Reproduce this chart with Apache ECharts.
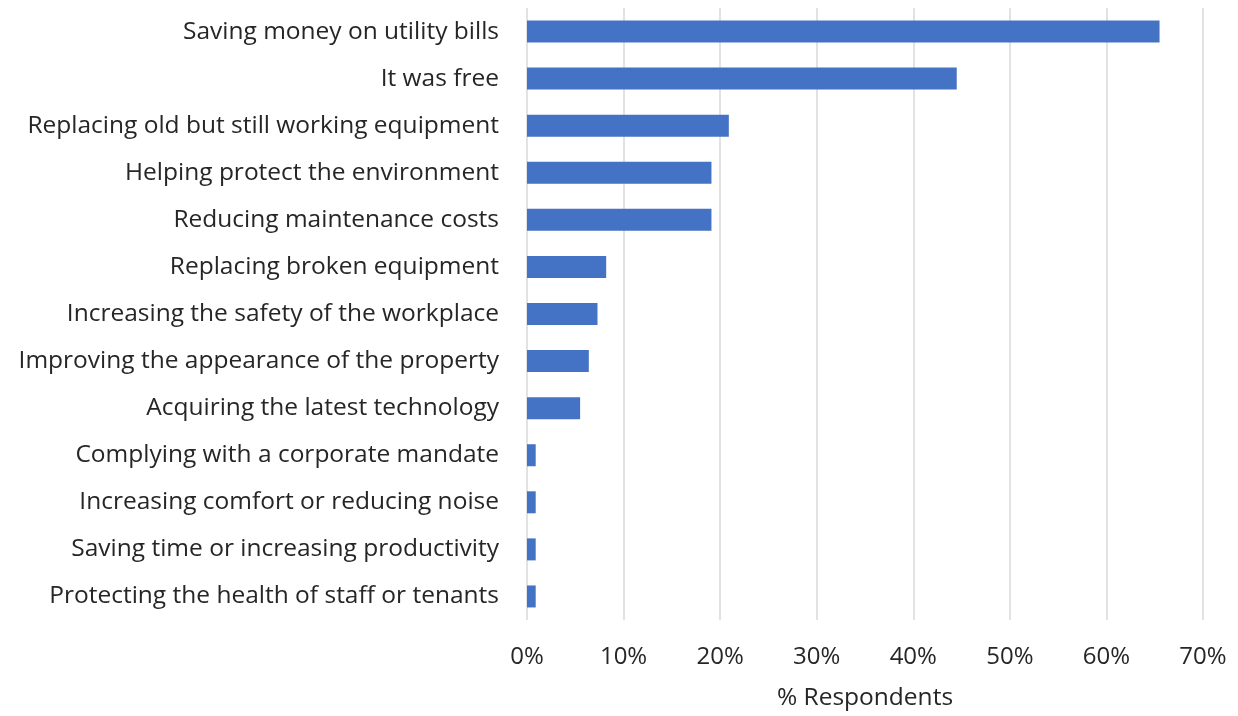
<!DOCTYPE html>
<html>
<head>
<meta charset="utf-8">
<script src="https://cdn.jsdelivr.net/npm/echarts@6/dist/echarts.min.js"></script>
<style>
  html, body { margin: 0; padding: 0; background: #fff; }
  #main { width: 1238px; height: 716px; }
</style>
</head>
<body>
<div id="main"></div>
<script>
// reasons, top to bottom
var reasons = [
  'Saving money on utility bills',
  'It was free',
  'Replacing old but still working equipment',
  'Helping protect the environment',
  'Reducing maintenance costs',
  'Replacing broken equipment',
  'Increasing the safety of the workplace',
  'Improving the appearance of the property',
  'Acquiring the latest technology',
  'Complying with a corporate mandate',
  'Increasing comfort or reducing noise',
  'Saving time or increasing productivity',
  'Protecting the health of staff or tenants'
];
// % respondents
var shares = [65.5, 44.5, 20.9, 19.1, 19.1, 8.2, 7.3, 6.4, 5.5, 0.9, 0.9, 0.9, 0.9];
var tickMax = 70;
var tickStep = 10;

var chart = echarts.init(document.getElementById('main'), null, { renderer: 'canvas' });

var font = '"Open Sans", Lato, sans-serif';
var option = {
  animation: false,
  grid: {
    left: 527,
    right: 35,
    top: 8,
    bottom: 96
  },
  xAxis: {
    type: 'value',
    min: 0,
    max: tickMax,
    interval: tickStep,
    name: '% Respondents',
    nameLocation: 'middle',
    nameGap: 66,
    nameTextStyle: { color: '#262626', fontSize: 24.5, fontFamily: font },
    axisLine: { show: false },
    axisTick: { show: false },
    axisLabel: {
      color: '#262626',
      fontSize: 24,
      fontFamily: font,
      margin: 25,
      formatter: '{value}%'
    },
    splitLine: { lineStyle: { color: '#d9d9d9', width: 1.5 } }
  },
  yAxis: {
    type: 'category',
    inverse: true,
    data: reasons,
    axisLine: { show: false },
    axisTick: { show: false },
    axisLabel: {
      color: '#262626',
      fontSize: 24.5,
      fontFamily: font,
      margin: 28
    }
  },
  series: [{
    type: 'bar',
    data: shares,
    barWidth: 22,
    itemStyle: { color: '#4472c4' }
  }]
};
chart.setOption(option);
</script>
</body>
</html>
